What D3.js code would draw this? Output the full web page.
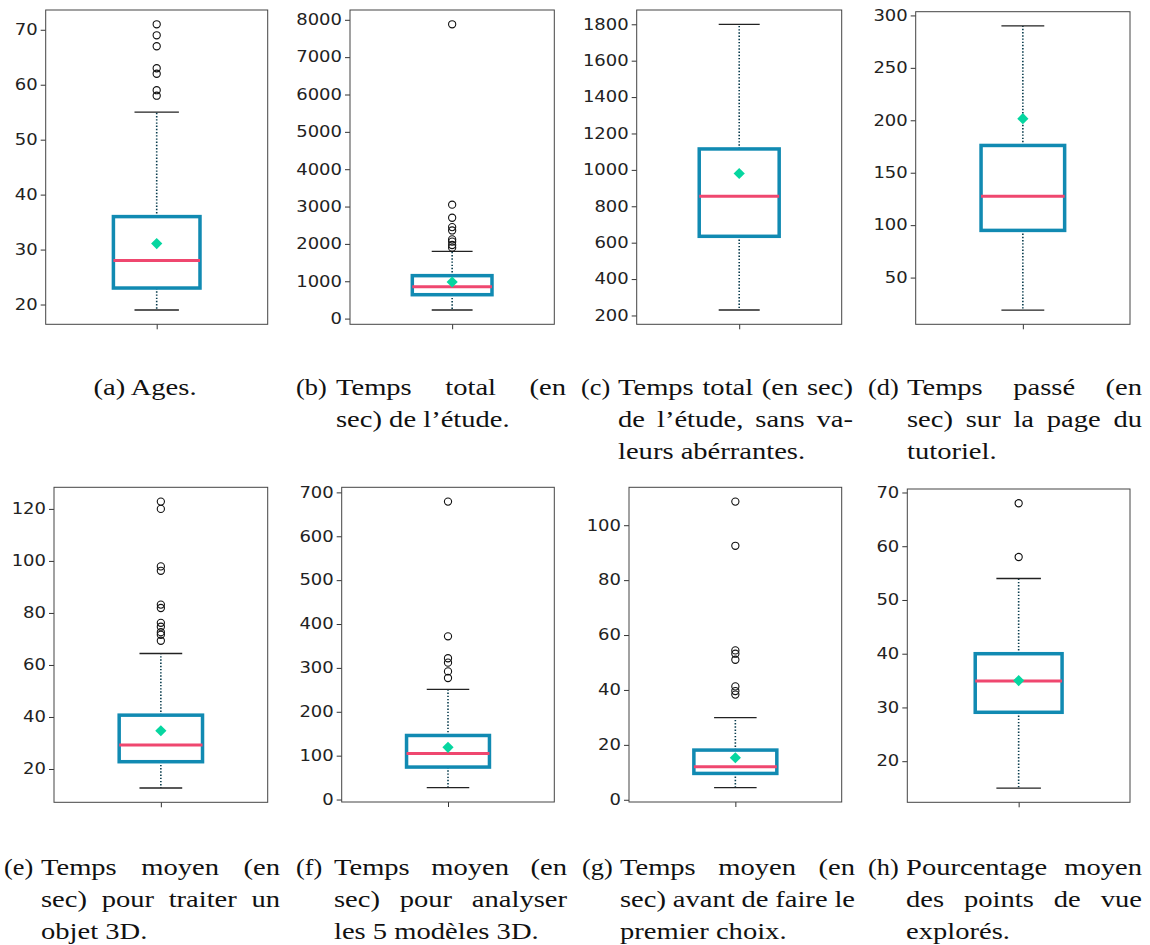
<!DOCTYPE html>
<html><head><meta charset="utf-8">
<script src="https://cdn.jsdelivr.net/npm/d3@7"></script>
<style>body{margin:0;background:#fff} svg{display:block}</style>
</head><body><svg id="chart" width="1150" height="945"></svg>
<script>
// ---------------- data ----------------
const panels = ["a", "b", "c", "d", "e", "f", "g", "h"];
const whiskerLow  = [19, 230, 230, 19, 12.7, 27, 4.4, 15];
const q1          = [23, 640, 635, 95, 22.8, 74, 9.6, 29.1];
const medians     = [28, 855, 855, 127.5, 29.2, 105, 12, 34.9];
const q3          = [36, 1150, 1115, 176, 40.7, 146, 18.1, 40];
const whiskerHigh = [55, 1800, 1800, 290, 64.4, 251, 29.9, 54];
const means       = [31.1, 980, 980, 201.5, 34.7, 119, 15.3, 35];
const outliers = [
  [58, 59, 62, 63, 67, 69, 71],
  [1900, 1970, 2060, 2120, 2360, 2450, 2700, 3050, 7880],
  [],
  [],
  [69.3, 71.6, 72.6, 74.7, 76.2, 81.9, 83.2, 96.2, 97.9, 120, 122.8],
  [277, 292, 312, 322, 372, 679],
  [38.3, 39.6, 41.3, 51, 53.2, 54.4, 92.5, 108.6],
  [58, 68]
];
const yTicks = [
  [20, 30, 40, 50, 60, 70],
  [0, 1000, 2000, 3000, 4000, 5000, 6000, 7000, 8000],
  [200, 400, 600, 800, 1000, 1200, 1400, 1600, 1800],
  [50, 100, 150, 200, 250, 300],
  [20, 40, 60, 80, 100, 120],
  [0, 100, 200, 300, 400, 500, 600, 700],
  [0, 20, 40, 60, 80, 100],
  [20, 30, 40, 50, 60, 70]
];
const captionLabels = ["(a)", "(b)", "(c)", "(d)", "(e)", "(f)", "(g)", "(h)"];
const captionLines = [
  ["Ages."],
  ["Temps total (en", "sec) de l’étude."],
  ["Temps total (en sec)", "de l’étude, sans va-", "leurs abérrantes."],
  ["Temps passé (en", "sec) sur la page du", "tutoriel."],
  ["Temps moyen (en", "sec) pour traiter un", "objet 3D."],
  ["Temps moyen (en", "sec) pour analyser", "les 5 modèles 3D."],
  ["Temps moyen (en", "sec) avant de faire le", "premier choix."],
  ["Pourcentage moyen", "des points de vue", "explorés."]
];

// ---------------- layout ----------------
const frames = [
  {x0: 45.7, x1: 267.7, y0: 10, y1: 324.3},
  {x0: 350, x1: 554.3, y0: 10, y1: 324.3},
  {x0: 636.7, x1: 841.7, y0: 10, y1: 324.3},
  {x0: 915.7, x1: 1130, y0: 11.7, y1: 324.3},
  {x0: 54, x1: 267.7, y0: 487.3, y1: 802.3},
  {x0: 341.7, x1: 554.3, y0: 487.3, y1: 802},
  {x0: 629, x1: 841.7, y0: 487.3, y1: 802},
  {x0: 907.3, x1: 1130, y0: 489, y1: 802.3}
];
const capLayout = [
  {center: 145, base: 395},
  {labelX: 296, textX: 336, textR: 566, base: 395},
  {labelX: 581, textX: 618, textR: 853, base: 395},
  {labelX: 868, textX: 907, textR: 1142, base: 395},
  {labelX: 4, textX: 41, textR: 280, base: 875},
  {labelX: 296, textX: 334, textR: 567, base: 875},
  {labelX: 582, textX: 620, textR: 855, base: 875},
  {labelX: 868, textX: 906, textR: 1142, base: 875}
];
const lineStep = 32;

const C = {box: "#118ab2", median: "#ef476f", mean: "#06d6a0", whisker: "#073b4c", cap: "#222", flier: "#111", frame: "#444"};
const svg = d3.select("#chart");

panels.forEach((p, i) => {
  const f = frames[i];
  const vals = [whiskerLow[i], whiskerHigh[i], ...outliers[i]];
  const lo = d3.min(vals), hi = d3.max(vals), r = hi - lo;
  const y = d3.scaleLinear().domain([lo - 0.05 * r, hi + 0.05 * r]).range([f.y1, f.y0]);
  const x = d3.scaleLinear().domain([0.5, 1.5]).range([f.x0, f.x1]);
  const g = svg.append("g");

  // y axis
  const ya = g.append("g").attr("transform", `translate(${f.x0},0)`)
    .call(d3.axisLeft(y).tickValues(yTicks[i]).tickSize(5).tickFormat(d3.format("d")));
  ya.select(".domain").remove();
  ya.selectAll(".tick line").attr("stroke", "#333").attr("stroke-width", 1);
  ya.selectAll(".tick text").attr("x", null).attr("text-anchor", "end")
    .attr("transform", "translate(-8,0) scale(1.2,1)")
    .attr("font-family", "DejaVu Sans").attr("font-size", 15).attr("fill", "#222");
  // x axis (single unlabeled tick)
  const xa = g.append("g").attr("transform", `translate(0,${f.y1})`)
    .call(d3.axisBottom(x).tickValues([1]).tickSize(5).tickFormat(""));
  xa.select(".domain").remove();
  xa.selectAll(".tick line").attr("stroke", "#333");

  // frame
  g.append("rect").attr("x", f.x0).attr("y", f.y0).attr("width", f.x1 - f.x0).attr("height", f.y1 - f.y0)
    .attr("fill", "none").attr("stroke", C.frame).attr("stroke-width", 1);

  const bw = 0.195, cw = 0.1;
  // whiskers
  [[q3[i], whiskerHigh[i]], [q1[i], whiskerLow[i]]].forEach(([a, b]) => {
    g.append("line").attr("x1", x(1)).attr("x2", x(1)).attr("y1", y(a)).attr("y2", y(b))
      .attr("stroke", C.whisker).attr("stroke-width", 1.6).attr("stroke-dasharray", "1.4,1.8");
  });
  // caps
  [whiskerHigh[i], whiskerLow[i]].forEach(v => {
    g.append("line").attr("x1", x(1 - cw)).attr("x2", x(1 + cw)).attr("y1", y(v)).attr("y2", y(v))
      .attr("stroke", C.cap).attr("stroke-width", 1.3);
  });
  // box
  g.append("rect").attr("x", x(1 - bw)).attr("width", x(1 + bw) - x(1 - bw))
    .attr("y", y(q3[i])).attr("height", y(q1[i]) - y(q3[i]))
    .attr("fill", "none").attr("stroke", C.box).attr("stroke-width", 3.5);
  // median
  g.append("line").attr("x1", x(1 - bw)).attr("x2", x(1 + bw)).attr("y1", y(medians[i])).attr("y2", y(medians[i]))
    .attr("stroke", C.median).attr("stroke-width", 3);
  // mean
  g.append("path").attr("d", d3.symbol(d3.symbolDiamond2, 80)())
    .attr("transform", `translate(${x(1)},${y(means[i])})`).attr("fill", C.mean);
  // fliers
  g.selectAll(".fl").data(outliers[i]).enter().append("circle")
    .attr("cx", x(1)).attr("cy", d => y(d)).attr("r", 3.6)
    .attr("fill", "none").attr("stroke", C.flier).attr("stroke-width", 1.1);
});

// ---------------- captions ----------------
const FONT = "Liberation Serif", FS = 22.5, SX = 1.27;
function addText(x, yy, s, anchor, sx) {
  const k = sx || SX;
  return svg.append("text").attr("transform", `translate(${x},${yy}) scale(${k},1)`)
    .attr("font-family", FONT).attr("font-size", FS)
    .attr("fill", "#111").attr("text-anchor", anchor || "start").text(s);
}
panels.forEach((p, i) => {
  const L = capLayout[i], lines = captionLines[i];
  if (L.center !== undefined) {
    addText(L.center, L.base, captionLabels[i] + " " + lines.join(" "), "middle");
    return;
  }
  addText(L.labelX, L.base, captionLabels[i], "start", 1.17);
  lines.forEach((line, k) => {
    const yy = L.base + k * lineStep;
    const words = line.split(" ");
    if (k === lines.length - 1) { addText(L.textX, yy, line); return; }
    const nodes = words.map(w => addText(0, yy, w));
    const widths = nodes.map(n => n.node().getComputedTextLength() * SX);
    const gap = (L.textR - L.textX - d3.sum(widths)) / Math.max(1, words.length - 1);
    let cx = L.textX;
    nodes.forEach((n, j) => { n.attr("transform", `translate(${cx},${yy}) scale(${SX},1)`); cx += widths[j] + gap; });
  });
});
</script></body></html>
